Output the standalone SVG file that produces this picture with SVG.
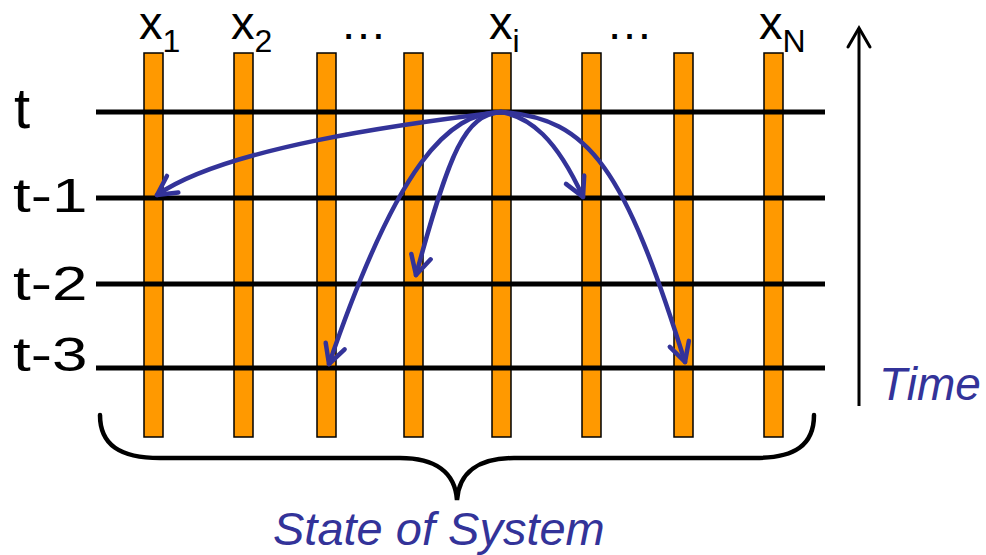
<svg xmlns="http://www.w3.org/2000/svg" width="986" height="555" viewBox="0 0 986 555">
<style>
.bar{fill:#FF9900;stroke:#000;stroke-width:1.5}
.row{stroke:#000;stroke-width:5}
.lbl{font-family:"Liberation Sans",Arial,sans-serif;fill:#000}
.blue{font-family:"Liberation Sans",Arial,sans-serif;fill:#333399;font-style:italic}
.arc{fill:none;stroke:#333399;stroke-width:4.5;stroke-linecap:round;marker-end:url(#ah)}
</style>
<defs>
<marker id="ah" markerUnits="userSpaceOnUse" markerWidth="40" markerHeight="40" refX="0" refY="0" orient="auto" overflow="visible">
<path d="M-19,-10 L0,0 L-19,10" fill="none" stroke="#333399" stroke-width="4.5" stroke-linecap="round" stroke-linejoin="round"/>
</marker>
<marker id="ta" markerUnits="userSpaceOnUse" markerWidth="40" markerHeight="40" refX="0" refY="0" orient="auto" overflow="visible">
<path d="M-19,-11 L0,0 L-19,11" fill="none" stroke="#000" stroke-width="3" stroke-linecap="round"/>
</marker>
</defs>
<g id="bars">
<rect class="bar" x="144" y="53" width="19" height="384"/>
<rect class="bar" x="234" y="53" width="19" height="384"/>
<rect class="bar" x="317" y="53" width="19" height="384"/>
<rect class="bar" x="404" y="53" width="19" height="384"/>
<rect class="bar" x="492" y="53" width="19" height="384"/>
<rect class="bar" x="582" y="53" width="19" height="384"/>
<rect class="bar" x="674" y="53" width="19" height="384"/>
<rect class="bar" x="764" y="53" width="19" height="384"/>
</g>
<g id="rows">
<line class="row" x1="96" y1="112" x2="825" y2="112"/>
<line class="row" x1="96" y1="198" x2="825" y2="198"/>
<line class="row" x1="96" y1="284" x2="825" y2="284"/>
<line class="row" x1="96" y1="368" x2="825" y2="368"/>
</g>
<g id="top-labels" class="lbl">
<text x="139" y="39" font-size="47">x<tspan font-size="32" dy="13">1</tspan></text>
<text x="231" y="39" font-size="47">x<tspan font-size="32" dy="13">2</tspan></text>
<text x="340" y="39" font-size="47">…</text>
<text x="489" y="39" font-size="47">x<tspan font-size="32" dy="13">i</tspan></text>
<text x="606" y="39" font-size="47">…</text>
<text x="759" y="39" font-size="47">x<tspan font-size="32" dy="13">N</tspan></text>
</g>
<g id="time-labels" class="lbl">
<text x="14" y="128" font-size="58">t</text>
<text transform="translate(13,212) scale(1.33,1)" font-size="48">t-1</text>
<text transform="translate(13,300) scale(1.33,1)" font-size="48">t-2</text>
<text transform="translate(13,371) scale(1.33,1)" font-size="48">t-3</text>
</g>
<g id="connectors">
<path class="arc" d="M501,112 C400,124 225,148 157,195"/>
<path class="arc" d="M501,112 C465,115 450,150 416,275"/>
<path class="arc" d="M501,112 C448,113 398,163 329,364"/>
<path class="arc" d="M501,112 C530,117 556,138 583,197"/>
<path class="arc" d="M501,112 C590,118 625,170 685,362"/>
</g>
<g id="time-axis">
<line x1="859" y1="406" x2="859" y2="28" stroke="#000" stroke-width="3" marker-end="url(#ta)"/>
<text class="blue" x="879" y="400" font-size="46">Time</text>
</g>
<g id="brace">
<path d="M100,415 C100,445 120,458 160,458 L400,458 C435,458 455,472 457,500 C459,472 479,458 514,458 L755,458 C795,458 814,445 814,415" fill="none" stroke="#000" stroke-width="4.5" stroke-linecap="round"/>
<text class="blue" x="273" y="545" font-size="47">State of System</text>
</g>
</svg>
